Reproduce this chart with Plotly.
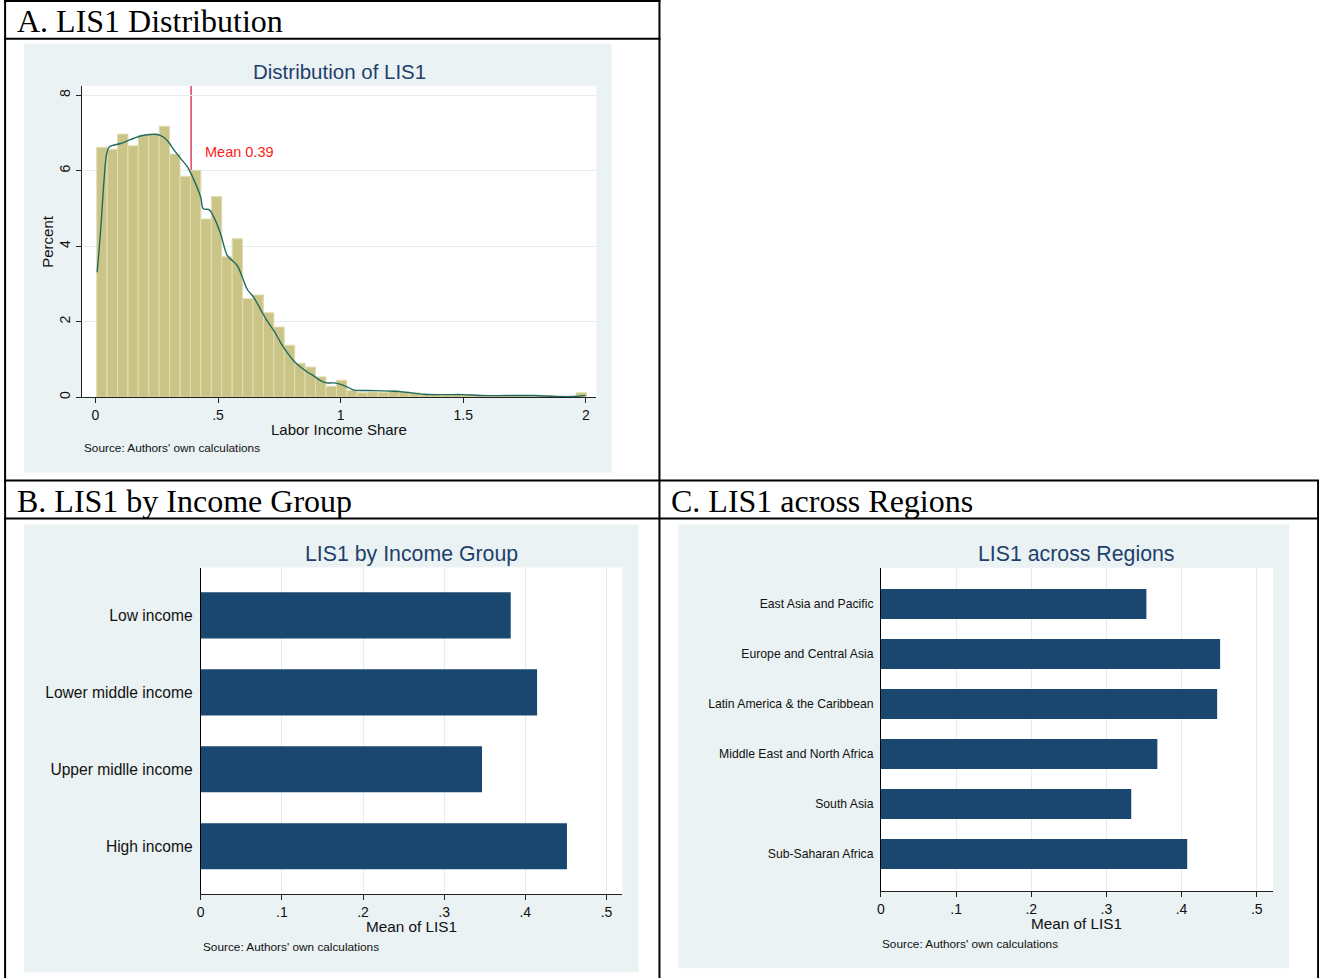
import plotly.graph_objects as go

W, H = 1319, 978

# ---------------- Data ----------------
# Panel A: histogram of LIS1 (percent per bin)
hist_percent = [6.62, 6.57, 6.97, 6.66, 6.94, 6.97, 7.18, 6.44, 5.85, 6.01,
                4.72, 5.32, 3.72, 4.20, 2.61, 2.71, 2.24, 1.86, 1.38, 0.90,
                0.80, 0.54, 0.29, 0.45, 0.18, 0.12, 0.14, 0.13, 0.18, 0.15,
                0.12, 0.08, 0.07, 0.06, 0.07, 0.07, 0.05, 0.03, 0.04, 0.04,
                0.05, 0.04, 0.04, 0.05, 0.03, 0.01, 0.12]
bin_start = 0.005
bin_width = 0.0425

density_x = [0.007, 0.022, 0.035, 0.046, 0.056, 0.076, 0.103, 0.130, 0.157, 0.184,
             0.225, 0.252, 0.280, 0.300, 0.320, 0.348, 0.375, 0.402, 0.429, 0.440,
             0.463, 0.483, 0.510, 0.538, 0.558, 0.578, 0.599, 0.619, 0.646, 0.673,
             0.700, 0.728, 0.755, 0.782, 0.809, 0.836, 0.864, 0.891, 0.918, 0.943,
             0.972, 1.000, 1.034, 1.054, 1.108, 1.217, 1.270, 1.340, 1.420, 1.500,
             1.570, 1.680, 1.790, 1.870, 1.950, 1.998]
density_y = [3.31, 4.50, 5.75, 6.46, 6.63, 6.68, 6.72, 6.79, 6.86, 6.92,
             6.96, 6.96, 6.88, 6.74, 6.55, 6.32, 6.10, 5.75, 5.30, 4.99,
             4.97, 4.77, 4.33, 3.75, 3.62, 3.49, 3.18, 2.86, 2.64, 2.33,
             2.02, 1.76, 1.45, 1.18, 0.96, 0.80, 0.67, 0.56, 0.44, 0.38,
             0.38, 0.34, 0.25, 0.19, 0.18, 0.16, 0.13, 0.08, 0.07, 0.07,
             0.045, 0.045, 0.045, 0.02, 0.02, 0.05]
mean_lis1 = 0.39
hist_ticks = [0, 0.5, 1, 1.5, 2]
hist_ticktext = ["0", ".5", "1", "1.5", "2"]
pct_ticks = [0, 2, 4, 6, 8]

# Panel B
income_groups = ["Low income", "Lower middle income", "Upper midlle income", "High income"]
income_means = [0.382, 0.4145, 0.3466, 0.4513]

# Panel C
regions = ["East Asia and Pacific", "Europe and Central Asia", "Latin America & the Caribbean",
           "Middle East and North Africa", "South Asia", "Sub-Saharan Africa"]
region_means = [0.3532, 0.4513, 0.4473, 0.3678, 0.333, 0.4075]

mean_ticks = [0, 0.1, 0.2, 0.3, 0.4, 0.5]
mean_ticktext = ["0", ".1", ".2", ".3", ".4", ".5"]

# ---------------- Styles ----------------
SANS = "Liberation Sans, Arial, sans-serif"
SERIF = "Liberation Serif, Times New Roman, serif"
BG = "#eaf2f3"
GRID = "#e3ecee"
NAVY = "#1a476f"
TITLE = "#1f3f6c"
KHAKI = "#cbc487"
TEAL = "#1f6a63"
AXIS = "#222222"


def px(x):
    return max((x - 3.2) / 0.9975, 0) / W


def py(y):
    return 1 - ((y - 0.4) / 0.9963) / H


fig = go.Figure()

# Panel A
centers = [bin_start + bin_width * (i + 0.5) for i in range(len(hist_percent))]
fig.add_trace(go.Bar(x=centers, y=hist_percent, width=bin_width,
                     marker=dict(color=KHAKI, line=dict(color="#e2deb3", width=1)),
                     xaxis="x", yaxis="y", hoverinfo="skip"))
fig.add_trace(go.Scatter(x=density_x, y=density_y, mode="lines",
                         line=dict(color=TEAL, width=1.4, shape="spline"),
                         xaxis="x", yaxis="y", hoverinfo="skip"))

# Panel B
fig.add_trace(go.Bar(x=income_means, y=income_groups, orientation="h", width=0.6,
                     marker=dict(color=NAVY, line=dict(width=0)),
                     xaxis="x2", yaxis="y2", hoverinfo="skip"))
# Panel C
fig.add_trace(go.Bar(x=region_means, y=regions, orientation="h", width=0.6,
                     marker=dict(color=NAVY, line=dict(width=0)),
                     xaxis="x3", yaxis="y3", hoverinfo="skip"))

tickfont = dict(family=SANS, size=14, color="#111111")

common_x = dict(ticks="outside", ticklen=5, tickcolor=AXIS, showline=True, linecolor=AXIS,
                linewidth=1, zeroline=False, tickfont=tickfont, fixedrange=True)

fig.update_layout(
    width=W, height=H,
    margin=dict(l=0, r=0, t=0, b=0),
    paper_bgcolor="white",
    plot_bgcolor="rgba(0,0,0,0)",
    showlegend=False,
    xaxis=dict(domain=[px(81), px(596)], range=[-0.0558, 2.043], tickvals=hist_ticks,
               ticktext=hist_ticktext, showgrid=False, anchor="y", **common_x),
    yaxis=dict(domain=[py(397), py(86)], range=[0, 8.25], tickvals=pct_ticks,
               tickangle=-90, showgrid=True, gridcolor=GRID, gridwidth=1,
               ticks="outside", ticklen=5, tickcolor=AXIS, showline=True, linecolor=AXIS,
               zeroline=False, tickfont=tickfont, anchor="x", fixedrange=True),
    xaxis2=dict(domain=[px(200), px(622)], range=[0, 0.5197], tickvals=mean_ticks,
                ticktext=mean_ticktext, showgrid=True, gridcolor=GRID, anchor="y2", **common_x),
    yaxis2=dict(domain=[py(893), py(567)], type="category", categoryorder="array",
                categoryarray=income_groups, range=[3.622, -0.622], showline=True,
                linecolor="black", ticks="outside", ticklen=4, tickcolor="rgba(0,0,0,0)",
                showgrid=False, zeroline=False, anchor="x2", fixedrange=True,
                tickfont=dict(family=SANS, size=15.6, color="#111111")),
    xaxis3=dict(domain=[px(880.6), px(1272.7)], range=[0, 0.5214], tickvals=mean_ticks,
                ticktext=mean_ticktext, showgrid=True, gridcolor=GRID, anchor="y3", **common_x),
    yaxis3=dict(domain=[py(890), py(567.3)], type="category", categoryorder="array",
                categoryarray=regions, range=[5.74, -0.725], showline=True,
                linecolor="black", ticks="outside", ticklen=4, tickcolor="rgba(0,0,0,0)",
                showgrid=False, zeroline=False, anchor="x3", fixedrange=True,
                tickfont=dict(family=SANS, size=12.2, color="#111111")),
)

shapes = []
# graph region backgrounds and white plot areas
for (x0, y0, x1, y1) in [(23, 44, 611, 472), (23, 524, 638, 971), (678, 524, 1289, 967)]:
    shapes.append(dict(type="rect", xref="paper", yref="paper", x0=px(x0), x1=px(x1),
                       y0=py(y1), y1=py(y0), fillcolor=BG, line=dict(width=0), layer="below"))
for (x0, y0, x1, y1) in [(81, 86, 596, 397), (200, 567, 622, 893), (880.6, 567.3, 1272.7, 890)]:
    shapes.append(dict(type="rect", xref="paper", yref="paper", x0=px(x0), x1=px(x1),
                       y0=py(y1), y1=py(y0), fillcolor="white", line=dict(width=0), layer="below"))
# mean line (under bars)
shapes.append(dict(type="line", xref="x", yref="y", x0=mean_lis1, x1=mean_lis1, y0=0, y1=8.25,
                   line=dict(color="#d3123a", width=1.2), layer="below"))
# table borders
border = dict(color="black", width=2)
for (x0, y0, x1, y1) in [(3, 1.5, 660, 1.5), (3, 39, 660, 39), (3, 480, 1319, 480),
                         (3, 518, 1319, 518), (4.3, 0, 4.3, 978), (659, 0, 659, 978),
                         (1318, 480, 1318, 978)]:
    shapes.append(dict(type="line", xref="paper", yref="paper", x0=px(x0), x1=px(x1),
                       y0=py(y0), y1=py(y1), line=border, layer="above"))
fig.update_layout(shapes=shapes)


def ann(text, x, y, size, color="#111111", family=SANS, xanchor="center", angle=0):
    return dict(text=text, x=px(x), y=py(y), xref="paper", yref="paper", showarrow=False,
                xanchor=xanchor, yanchor="middle", textangle=angle,
                font=dict(family=family, size=size, color=color))


annotations = [
    ann("A. LIS1 Distribution", 14, 21, 32, "black", SERIF, "left"),
    ann("B. LIS1 by Income Group", 14, 500.5, 32, "black", SERIF, "left"),
    ann("C. LIS1 across Regions", 669, 500.5, 32, "black", SERIF, "left"),
    ann("Distribution of LIS1", 338.5, 72, 20.5, TITLE),
    ann("LIS1 by Income Group", 411, 553, 21.3, TITLE),
    ann("LIS1 across Regions", 1076.5, 553, 21.3, TITLE),
    ann("Labor Income Share", 338.5, 429, 15),
    ann("Percent", 47, 241, 15, angle=-90),
    ann("Mean of LIS1", 411, 925.5, 15.3),
    ann("Mean of LIS1", 1076, 922.5, 15.3),
    ann("Source: Authors' own calculations", 81, 448, 11.8, xanchor="left"),
    ann("Source: Authors' own calculations", 200, 945.5, 11.8, xanchor="left"),
    ann("Source: Authors' own calculations", 880, 942.5, 11.8, xanchor="left"),
    ann(f"Mean {mean_lis1:.2f}", 202, 152, 14.5, "#ff1a1a", xanchor="left"),
]
fig.update_layout(annotations=annotations)

fig.write_html("out.html", config={"displayModeBar": False},
               post_script="document.body.style.margin='0';document.body.style.overflow='hidden';")
